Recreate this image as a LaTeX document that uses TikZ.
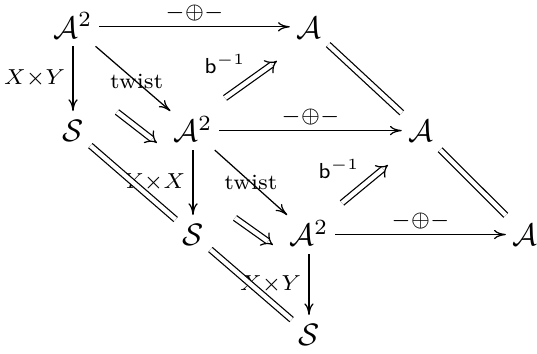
\documentclass[tikz,border=0pt]{standalone}
\usepackage{amsmath}
\usepackage{amssymb}
\usetikzlibrary{arrows.meta,positioning,calc}

\begin{document}
\begin{tikzpicture}[
  obj/.style={inner sep=2pt, text height=1.8ex, text depth=0.1ex},
  arr/.style={-{Computer Modern Rightarrow[length=3.8pt, width=3pt]}},
  twocell/.style={double, double distance=1.4pt, -{Implies}},
  eqline/.style={double, double distance=1.4pt},
  lbl/.style={inner sep=1pt, execute at begin node=$\scriptstyle, execute at end node=$}
]
\useasboundingbox (0,0) rectangle (6.09,4.014);

% objects
\node[obj] (p1) at (0.828,3.71) {$\mathcal{A}^2$};
\node[obj] (a1) at (3.504,3.71) {$\mathcal{A}$};
\node[obj] (s1) at (0.828,2.533) {$\mathcal{S}$};
\node[obj] (p2) at (2.189,2.533) {$\mathcal{A}^2$};
\node[obj] (a2) at (4.774,2.533) {$\mathcal{A}$};
\node[obj] (s2) at (2.189,1.354) {$\mathcal{S}$};
\node[obj] (p3) at (3.504,1.354) {$\mathcal{A}^2$};
\node[obj] (a3) at (5.954,1.354) {$\mathcal{A}$};
\node[obj] (s3) at (3.504,0.219) {$\mathcal{S}$};

% ends of the 2-cells
\coordinate (c1s) at (1.327,2.744); \coordinate (c1e) at (1.780,2.393);
\coordinate (b1s) at (2.552,2.903); \coordinate (b1e) at (3.141,3.323);
\coordinate (c2s) at (2.665,1.542); \coordinate (c2e) at (3.096,1.236);
\coordinate (b2s) at (3.878,1.712); \coordinate (b2e) at (4.400,2.143);

\draw[arr] (p1) -- node[lbl, above=0.5pt] {-\oplus-} (a1);
\draw[arr] (p2) -- node[lbl, above=0.5pt] {-\oplus-} (a2);
\draw[arr] (p3) -- node[lbl, above=0.5pt] {-\oplus-} (a3);

\draw[arr] (p1) -- node[lbl, left=1.3pt] {X\times Y} (s1);
\draw[arr] (p2) -- node[lbl, left=1.3pt] {Y\times X} (s2);
\draw[arr] (p3) -- node[lbl, left=1.3pt] {X\times Y} (s3);

\draw[arr] (p1) -- node[lbl, pos=0.55] {\text{twist}} (p2);
\draw[arr] (p2) -- node[lbl, pos=0.5] {\text{twist}} (p3);

\draw[eqline] (a1) -- (a2);
\draw[eqline] (a2) -- (a3);
\draw[eqline] (s1) -- (s2);
\draw[eqline] (s2) -- (s3);

\draw[twocell] (c1s) -- (c1e);
\draw[twocell] (c2s) -- (c2e);
\draw[twocell] (b1s) -- node[lbl, above left=0.8pt] {\mathsf{b}^{-1}} (b1e);
\draw[twocell] (b2s) -- node[lbl, above left=0.8pt] {\mathsf{b}^{-1}} (b2e);
\end{tikzpicture}
\end{document}
